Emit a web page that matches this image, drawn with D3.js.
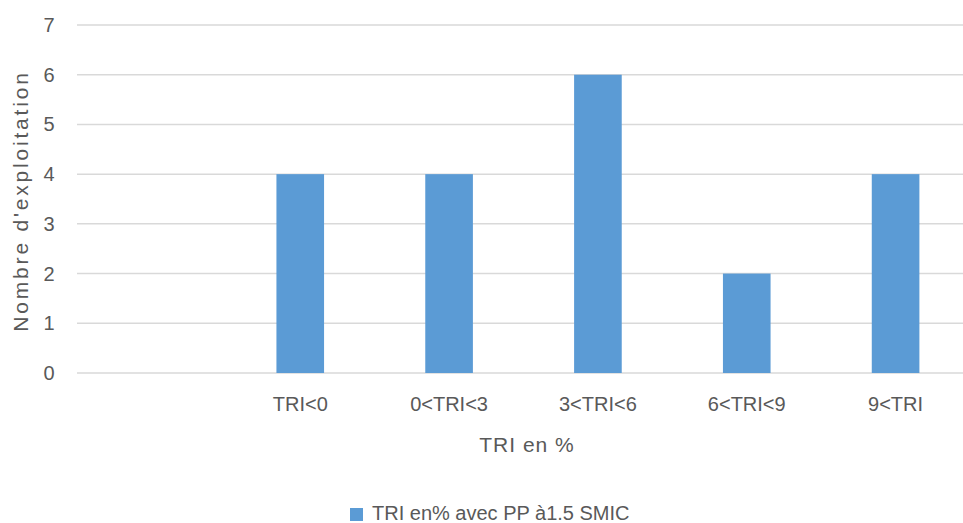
<!DOCTYPE html>
<html><head><meta charset="utf-8">
<script src="https://cdn.jsdelivr.net/npm/d3@7/dist/d3.min.js"></script>
<style>body{margin:0;background:#fff}svg{display:block}text{font-family:"Liberation Sans",Arial,sans-serif;fill:#595959}</style>
</head><body><svg id="c" width="963" height="523"></svg>
<script>
const categories = ["", "TRI<0", "0<TRI<3", "3<TRI<6", "6<TRI<9", "9<TRI"];
const values = [null, 4, 4, 6, 2, 4];
const yTicks = [0,1,2,3,4,5,6,7];
const seriesName = "TRI en% avec PP à1.5 SMIC";
const xTitle = "TRI en %";
const yTitle = "Nombre d'exploitation";

const svg = d3.select("#c");
const x = d3.scaleBand().domain(categories).range([77, 970]).paddingInner(0.68).paddingOuter(0.34);
const y = d3.scaleLinear().domain([0,7]).range([373, 25]);

svg.append("g").selectAll("line").data(yTicks).join("line")
  .attr("x1",77).attr("x2",970).attr("y1",d=>y(d)).attr("y2",d=>y(d))
  .attr("stroke","#d9d9d9").attr("stroke-width",1.5);

svg.append("g").selectAll("text").data(yTicks).join("text")
  .attr("x",49).attr("y",d=>y(d)+7).attr("text-anchor","middle")
  .attr("font-size",20).text(d=>d);

svg.append("g").selectAll("rect").data(categories.map((c,i)=>({c,v:values[i]})).filter(d=>d.v!=null)).join("rect")
  .attr("x",d=>x(d.c)).attr("width",x.bandwidth())
  .attr("y",d=>y(d.v)).attr("height",d=>y(0)-y(d.v)).attr("fill","#5b9bd5");

svg.append("g").selectAll("text").data(categories).join("text")
  .attr("x",d=>x(d)+x.bandwidth()/2).attr("y",411).attr("text-anchor","middle")
  .attr("font-size",20).text(d=>d);

svg.append("text").attr("x",527).attr("y",452).attr("text-anchor","middle")
  .attr("font-size",21).attr("letter-spacing",1).text(xTitle);

svg.append("text").attr("transform","translate(28,201) rotate(-90)").attr("text-anchor","middle")
  .attr("font-size",21).attr("letter-spacing",2.8).text(yTitle);

svg.append("rect").attr("x",350).attr("y",508).attr("width",13).attr("height",13).attr("fill","#5b9bd5");
svg.append("text").attr("x",372).attr("y",520).attr("font-size",20).text(seriesName);
</script></body></html>
